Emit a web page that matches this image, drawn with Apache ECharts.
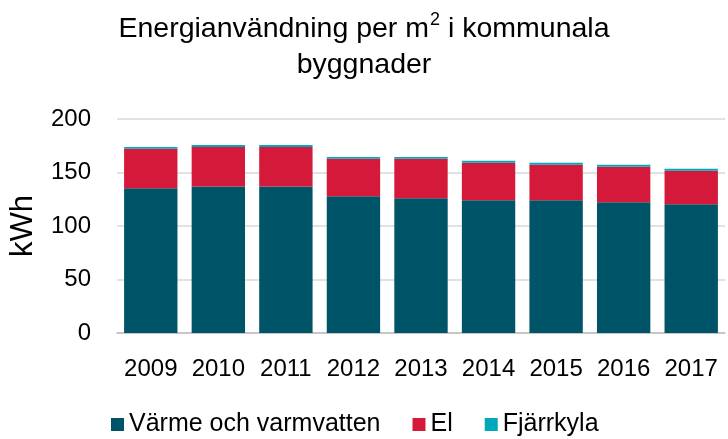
<!DOCTYPE html>
<html>
<head>
<meta charset="utf-8">
<script src="https://cdn.jsdelivr.net/npm/echarts@6/dist/echarts.min.js"></script>
<style>html,body{margin:0;padding:0;background:#fff}#c{width:728px;height:439px}</style>
</head>
<body>
<div id="c"></div>
<script>
const years = ['2009','2010','2011','2012','2013','2014','2015','2016','2017'];
const varme = [135.2, 137.0, 137.0, 127.8, 125.9, 124.1, 124.1, 122.2, 120.3];
const el = [37.1, 36.9, 36.9, 35.0, 36.9, 35.0, 33.1, 33.1, 31.3];
const fjarrkyla = [1.6, 1.9, 1.9, 1.8, 1.8, 1.8, 1.9, 1.9, 1.9];
const yTicks = [0, 50, 100, 150, 200];

const font = '"Liberation Sans", Arial, sans-serif';
const chart = echarts.init(document.getElementById('c'));
chart.setOption({
  animation: false,
  title: {
    text: 'Energianvändning per m{sup|2} i kommunala\nbyggnader',
    left: 'center',
    top: 6,
    textStyle: {
      fontFamily: font, fontSize: 28.5, fontWeight: 'normal', color: '#000', lineHeight: 36,
      rich: {
        sup: {fontFamily: font, fontSize: 18, color: '#000', verticalAlign: 'top', lineHeight: 36, padding: [0, 0, 0, 1]}
      }
    }
  },
  legend: {
    top: 407,
    left: 106,
    itemWidth: 13,
    itemHeight: 13,
    itemGap: 32,
    icon: 'rect',
    textStyle: {fontFamily: font, fontSize: 25, color: '#000'},
    data: ['Värme och varmvatten', 'El', 'Fjärrkyla']
  },
  grid: {left: 116, right: 3, top: 119, bottom: 106},
  xAxis: {
    type: 'category',
    data: years,
    axisTick: {show: false},
    axisLine: {lineStyle: {color: '#bfbfbf', width: 1.5}},
    axisLabel: {fontFamily: font, fontSize: 24, color: '#000', margin: 24, interval: 0}
  },
  yAxis: {
    type: 'value',
    min: yTicks[0],
    max: yTicks[yTicks.length - 1],
    interval: 50,
    name: 'kWh',
    nameLocation: 'middle',
    nameGap: 78,
    nameTextStyle: {fontFamily: font, fontSize: 31, color: '#000'},
    axisLine: {show: false},
    axisTick: {show: false},
    splitLine: {lineStyle: {color: '#d9d9d9', width: 1.5}},
    axisLabel: {fontFamily: font, fontSize: 24, color: '#000', margin: 26}
  },
  series: [
    {name: 'Värme och varmvatten', type: 'bar', stack: 't', data: varme, barCategoryGap: '21%', itemStyle: {color: '#005467'}},
    {name: 'El', type: 'bar', stack: 't', data: el, itemStyle: {color: '#D5193A'}},
    {name: 'Fjärrkyla', type: 'bar', stack: 't', data: fjarrkyla, itemStyle: {color: '#00A8B8'}}
  ]
});
</script>
</body>
</html>
